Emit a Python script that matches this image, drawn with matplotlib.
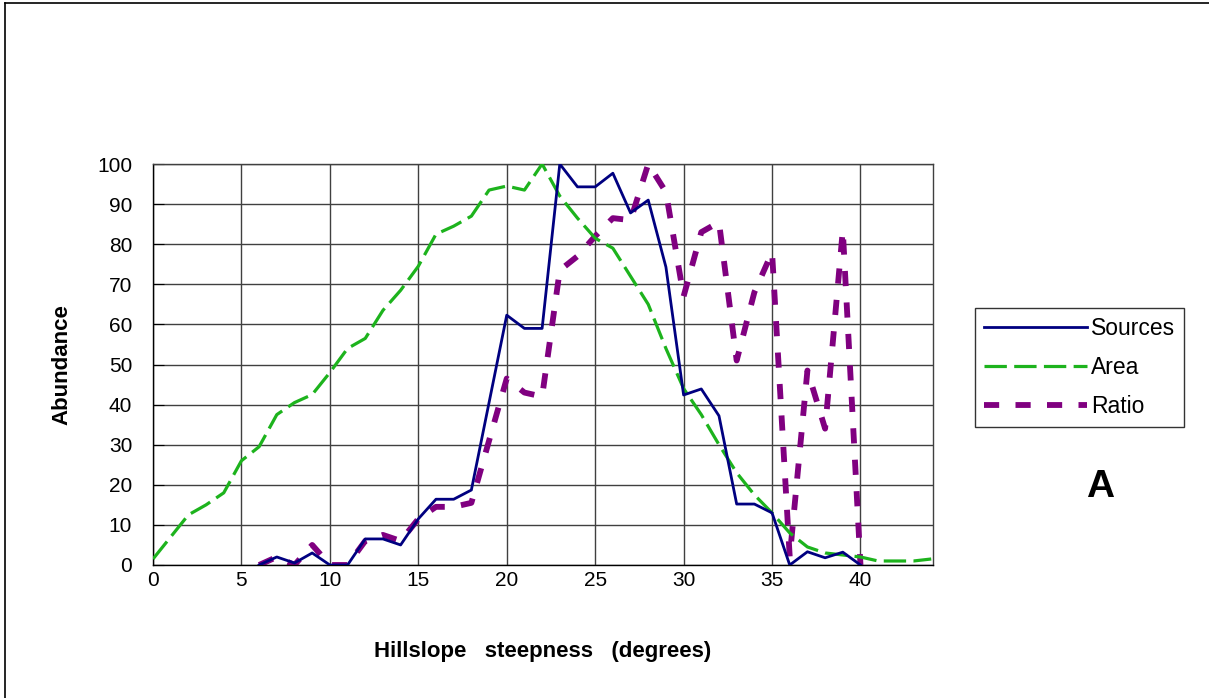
import matplotlib
matplotlib.use("Agg")
import matplotlib.pyplot as plt
from matplotlib.lines import Line2D

plt.rcParams['font.family'] = ['Liberation Sans', 'DejaVu Sans']

# Hillslope steepness (degrees)
area_x = list(range(0, 45))
area = [1.5, 7, 12.5, 15, 18, 26, 29.5, 37.5, 40.5, 42.5,
        48, 54, 56.5, 63.5, 68.5, 74.5, 82.5, 84.5, 87, 93.5,
        94.5, 93.5, 100, 92, 86.5, 81.5, 79, 72, 65, 54,
        44, 37.5, 30, 23, 17.5, 13, 8, 4.5, 3, 2.5,
        2, 1, 1, 1, 1.5]

src_x = list(range(6, 41))
sources = [0, 2, 0.5, 3, 0, 0, 6.5, 6.5, 5, 11.5,
           16.4, 16.4, 18.7, 40.5, 62.3, 59, 59, 100, 94.3, 94.3,
           97.7, 87.8, 91, 74.3, 42.4, 43.9, 37.2, 15.2, 15.2, 13,
           0, 3.3, 1.8, 3.2, 0]
ratio = [0, 2, 0, 5, 0, 0, 6, 7.5, 6, 11.5,
         14.5, 14.5, 15.5, 31, 46.5, 43, 42, 73.5, 77, 82,
         86.5, 86, 100, 93, 67, 83, 85.5, 51, 68, 78,
         2, 48.5, 34, 83.5, 0]

x_ticks = [0, 5, 10, 15, 20, 25, 30, 35, 40]
y_ticks = list(range(0, 101, 10))

fig = plt.figure(figsize=(12.09, 6.98), dpi=100)
W, H = 1209, 698
ax = fig.add_axes([153 / W, 1 - 565 / H, (933 - 153) / W, (565 - 164) / H])

blue, green, purple = '#000080', '#1db31d', '#800080'
ax.plot(src_x, sources, color=blue, lw=2.0, zorder=4)
ax.plot(area_x, area, color=green, lw=2.3, dashes=(7, 2.3), zorder=3)
ax.plot(src_x, ratio, color=purple, lw=4.2, dashes=(2.6, 2.8), zorder=2)

ax.set_xlim(0, 44.1)
ax.set_ylim(0, 100)
ax.set_xticks(x_ticks)
ax.set_yticks(y_ticks)
ax.grid(True, color='#404040', lw=1.0)
ax.set_axisbelow(True)
for s in ax.spines.values():
    s.set_color('#404040')
    s.set_linewidth(1.0)
ax.spines['left'].set_color('black')
ax.spines['bottom'].set_color('black')
ax.tick_params(axis='y', direction='in', length=8, labelsize=15, pad=15)
ax.tick_params(axis='x', direction='in', length=0, labelsize=15, pad=4)

ax.set_xlabel('Hillslope   steepness   (degrees)', fontsize=16,
              fontweight='bold', labelpad=37)
ax.set_ylabel('Abundance', fontsize=16, fontweight='bold', labelpad=18)

handles = [Line2D([], [], color=blue, lw=2.0),
           Line2D([], [], color=green, lw=2.3, dashes=(7, 2.3)),
           Line2D([], [], color=purple, lw=4.2, dashes=(2.6, 2.8))]
leg = fig.legend(handles, ['Sources', 'Area', 'Ratio'],
                 loc='upper left', bbox_to_anchor=(975 / W, 1 - 308 / H),
                 fontsize=16.5, frameon=True, fancybox=False,
                 handlelength=4.5, handletextpad=0.15, borderpad=0.4,
                 labelspacing=0.7, borderaxespad=0)
leg.get_frame().set_edgecolor('black')
leg.get_frame().set_linewidth(1.0)

fig.text(1100 / W, 1 - 487 / H, 'A', fontsize=28, fontweight='bold',
         ha='center', va='center')

# outer frame (top and left edges visible)
fig.add_artist(Line2D([5 / W, 1], [1 - 3 / H, 1 - 3 / H], color='black', lw=1.2))
fig.add_artist(Line2D([5 / W, 5 / W], [0, 1 - 3 / H], color='black', lw=1.2))

fig.savefig('out.png', dpi=100)
